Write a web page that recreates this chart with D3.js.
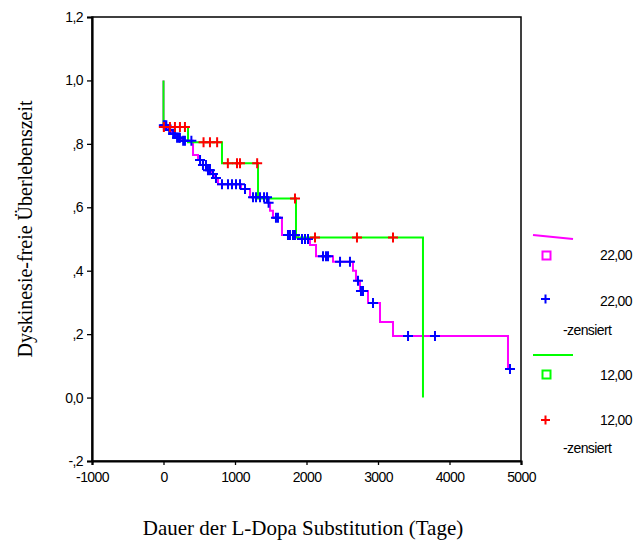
<!DOCTYPE html>
<html><head><meta charset="utf-8">
<script src="https://cdn.jsdelivr.net/npm/d3@7"></script>
<style>body{margin:0;background:#fff}svg{display:block}</style>
</head><body>
<svg id="c" width="637" height="546"></svg>
<script>
// ---- data ----
const xTicks = [-1000, 0, 1000, 2000, 3000, 4000, 5000];
const xTickLabels = ["-1000", "0", "1000", "2000", "3000", "4000", "5000"];
const yTicks = [-0.2, 0, 0.2, 0.4, 0.6, 0.8, 1.0, 1.2];
const yTickLabels = ["-,2", "0,0", ",2", ",4", ",6", ",8", "1,0", "1,2"];

// group 22,00 : event times and survival value after the drop
const g22Times  = [0, 0, 63, 119, 175, 259, 413, 483, 552, 608, 664, 720, 762, 1084, 1210, 1462, 1490, 1531, 1657, 1881, 2049, 2133, 2371, 2650, 2692, 2748, 2860, 3028, 3210, 4818, 4846];
const g22Values = [1.0, 0.859, 0.844, 0.832, 0.819, 0.810, 0.765, 0.749, 0.733, 0.717, 0.705, 0.692, 0.673, 0.658, 0.632, 0.614, 0.589, 0.567, 0.513, 0.500, 0.481, 0.446, 0.428, 0.400, 0.368, 0.336, 0.298, 0.238, 0.194, 0.090, 0.090];
const g22Censored = [5, 20, 40, 80, 95, 135, 160, 190, 215, 230, 275, 300, 390, 511, 552, 594, 622, 650, 692, 734, 818, 902, 958, 1014, 1070, 1140, 1252, 1294, 1350, 1406, 1448, 1470, 1573, 1601, 1741, 1769, 1811, 1839, 1937, 1979, 2021, 2231, 2273, 2301, 2469, 2608, 2720, 2762, 2790, 2930, 3420, 3797, 4846];

// group 12,00
const g12Times  = [0, 0, 343, 818, 1322, 1853, 3629];
const g12Values = [1.0, 0.853, 0.805, 0.739, 0.628, 0.505, 0.0];
const g12Censored = [5, 90, 160, 230, 300, 560, 650, 750, 900, 1028, 1070, 1310, 1839, 2119, 2706, 3210];

const legendLabels = ["22,00", "22,00", "-zensiert", "12,00", "12,00", "-zensiert"];

// ---- drawing ----
const svg = d3.select("#c");
const x = d3.scaleLinear().domain([-1000, 5000]).range([92, 521]);
const y = d3.scaleLinear().domain([-0.2, 1.2]).range([461, 17]);
const font = "'Liberation Sans', Arial, sans-serif";
const serif = "'Liberation Serif', 'Times New Roman', serif";

function valueAt(times, values, t) {
  let v = values[0];
  for (let i = 0; i < times.length; i++) if (times[i] <= t) v = values[i];
  return v;
}

// frame
svg.append("rect").attr("x", x(-1000)).attr("y", y(1.2))
  .attr("width", x(5000) - x(-1000)).attr("height", y(-0.2) - y(1.2))
  .attr("fill", "none").attr("stroke", "#000").attr("stroke-width", 1.5);

const yAxis = svg.append("g").attr("transform", `translate(${x(-1000)},0)`)
  .call(d3.axisLeft(y).tickValues(yTicks).tickSize(5).tickPadding(4)
    .tickFormat((d, i) => yTickLabels[i]));
const xAxis = svg.append("g").attr("transform", `translate(0,${y(-0.2)})`)
  .call(d3.axisBottom(x).tickValues(xTicks).tickSize(4).tickPadding(7)
    .tickFormat((d, i) => xTickLabels[i]));
[yAxis, xAxis].forEach(a => {
  a.select(".domain").attr("stroke-width", 2.2);
  a.selectAll(".tick line").attr("stroke-width", 1.3);
  a.selectAll("text").attr("font-family", font).attr("font-size", 14)
    .attr("letter-spacing", "-0.6").attr("fill", "#000");
});

const line = d3.line().x(d => x(d[0])).y(d => y(d[1])).curve(d3.curveStepAfter);
const pts22 = g22Times.map((t, i) => [t, g22Values[i]]);
const pts12 = g12Times.map((t, i) => [t, g12Values[i]]);

svg.append("path").attr("d", line(pts22)).attr("fill", "none")
  .attr("stroke", "#ff00ff").attr("stroke-width", 2);
svg.append("path").attr("d", line(pts12)).attr("fill", "none")
  .attr("stroke", "#00ff00").attr("stroke-width", 2);

function plusPath(cx, cy, s) {
  return `M${cx - s},${cy}H${cx + s}M${cx},${cy - s}V${cy + s}`;
}
svg.append("g").selectAll("path").data(g22Censored).join("path")
  .attr("d", t => plusPath(x(t), y(valueAt(g22Times, g22Values, t)), 5))
  .attr("stroke", "#0000ff").attr("stroke-width", 2).attr("fill", "none");
svg.append("g").selectAll("path").data(g12Censored).join("path")
  .attr("d", t => plusPath(x(t), y(valueAt(g12Times, g12Values, t)), 5))
  .attr("stroke", "#ff0000").attr("stroke-width", 2).attr("fill", "none");

// legend
const lg = svg.append("g");
lg.append("line").attr("x1", 533).attr("y1", 235).attr("x2", 573).attr("y2", 239)
  .attr("stroke", "#ff00ff").attr("stroke-width", 2);
lg.append("rect").attr("x", 542.5).attr("y", 251.5).attr("width", 8).attr("height", 8)
  .attr("fill", "none").attr("stroke", "#ff00ff").attr("stroke-width", 2);
lg.append("path").attr("d", plusPath(545.5, 299, 4.5)).attr("stroke", "#0000ff").attr("stroke-width", 2);
lg.append("line").attr("x1", 533).attr("y1", 355).attr("x2", 573).attr("y2", 355)
  .attr("stroke", "#00ff00").attr("stroke-width", 2);
lg.append("rect").attr("x", 542.5).attr("y", 370.5).attr("width", 8).attr("height", 8)
  .attr("fill", "none").attr("stroke", "#00ff00").attr("stroke-width", 2);
lg.append("path").attr("d", plusPath(545.5, 420, 4.5)).attr("stroke", "#ff0000").attr("stroke-width", 2);

const legPos = [[632, 260, "end"], [632, 306, "end"], [563, 335, "start"], [632, 380, "end"], [632, 425, "end"], [563, 453, "start"]];
lg.selectAll("text").data(legendLabels).join("text")
  .attr("x", (d, i) => legPos[i][0]).attr("y", (d, i) => legPos[i][1])
  .attr("text-anchor", (d, i) => legPos[i][2])
  .attr("font-family", font).attr("font-size", 14).attr("letter-spacing", "-0.6")
  .text(d => d);

// axis titles
svg.append("text").attr("transform", "translate(32,229) rotate(-90)")
  .attr("text-anchor", "middle").attr("font-family", serif).attr("font-size", 20)
  .text("Dyskinesie-freie Überlebenszeit");
svg.append("text").attr("x", 303).attr("y", 535)
  .attr("text-anchor", "middle").attr("font-family", serif).attr("font-size", 21)
  .text("Dauer der L-Dopa Substitution (Tage)");
</script>
</body></html>
